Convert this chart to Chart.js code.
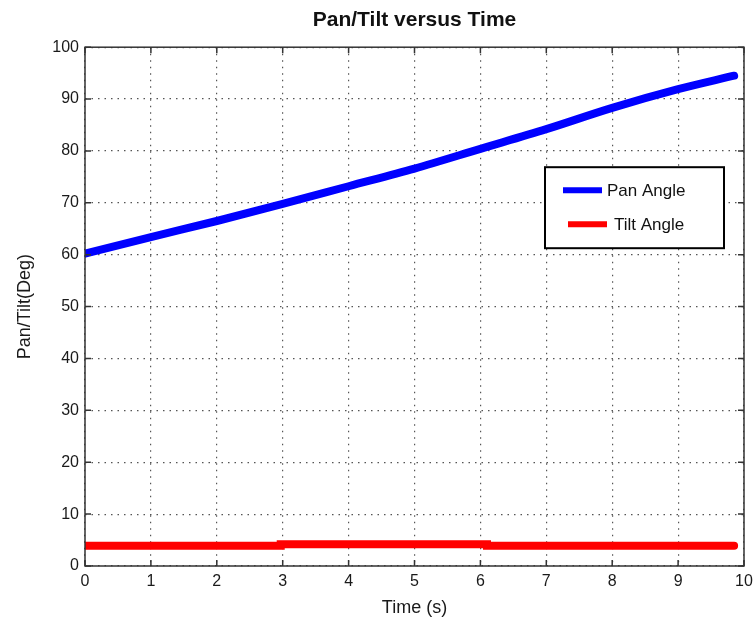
<!DOCTYPE html>
<html>
<head>
<meta charset="utf-8">
<script src="https://cdn.jsdelivr.net/npm/chart.js@4/dist/chart.umd.min.js"></script>
<style>
  html, body { margin: 0; padding: 0; background: #fff; }
  #wrap { width: 755px; height: 627px; }
</style>
</head>
<body>
<div id="wrap"><canvas id="line-chart" width="755" height="627"></canvas></div>
<script>
// values
const panTime = [0, 1, 2, 3, 4, 5, 6, 7, 8, 9, 9.85];
const panAngle = [60.2, 63.4, 66.5, 69.8, 73.2, 76.6, 80.4, 84.2, 88.3, 91.9, 94.5];
const tiltTime = [0, 2.97, 6.1, 9.85];
const tiltAngle = [3.9, 4.2, 3.9, 3.9];
const xTicks = [0, 1, 2, 3, 4, 5, 6, 7, 8, 9, 10];
const yTicks = [0, 10, 20, 30, 40, 50, 60, 70, 80, 90, 100];
const seriesNames = ["Pan Angle", "Tilt Angle"];

const toPoints = (xs, ys) => xs.map((x, i) => ({ x: x, y: ys[i] }));

// matlab style box + inward tick marks + legend drawn inside the axes
const matlabBox = {
  id: 'matlabBox',
  afterDraw(chart) {
    const ctx = chart.ctx, a = chart.chartArea;
    const xs = chart.scales.x, ys = chart.scales.y;
    ctx.save();
    ctx.strokeStyle = '#333';
    ctx.lineWidth = 1.5;
    ctx.strokeRect(a.left, a.top, a.right - a.left, a.bottom - a.top);
    ctx.beginPath();
    xTicks.forEach(t => {
      const px = xs.getPixelForValue(t);
      ctx.moveTo(px, a.bottom); ctx.lineTo(px, a.bottom - 6);
      ctx.moveTo(px, a.top); ctx.lineTo(px, a.top + 6);
    });
    yTicks.forEach(t => {
      const py = ys.getPixelForValue(t);
      ctx.moveTo(a.left, py); ctx.lineTo(a.left + 6, py);
      ctx.moveTo(a.right, py); ctx.lineTo(a.right - 6, py);
    });
    ctx.stroke();

    // legend
    const w = 179, h = 81;
    const bx = a.right - 20 - w, by = a.top + 120;
    ctx.fillStyle = '#fff';
    ctx.fillRect(bx, by, w, h);
    ctx.strokeStyle = '#000';
    ctx.lineWidth = 2;
    ctx.strokeRect(bx, by, w, h);
    ctx.font = '17px Arial';
    ctx.textBaseline = 'middle';
    chart.data.datasets.forEach((ds, i) => {
      const ly = by + 23 + i * 34;
      ctx.strokeStyle = ds.borderColor;
      ctx.lineWidth = 6;
      ctx.beginPath();
      ctx.moveTo(bx + 18 + i * 5, ly);
      ctx.lineTo(bx + 57 + i * 5, ly);
      ctx.stroke();
      ctx.fillStyle = '#111';
      ctx.fillText(ds.label, bx + 62 + i * 7, ly + 1);
    });
    ctx.restore();
  }
};

new Chart(document.getElementById("line-chart"), {
  type: 'line',
  data: {
    datasets: [{
        label: seriesNames[0],
        data: toPoints(panTime, panAngle),
        borderColor: "#0000ff",
        borderWidth: 8,
        borderCapStyle: 'round',
        cubicInterpolationMode: 'monotone',
        pointRadius: 0,
        fill: false
      }, {
        label: seriesNames[1],
        data: toPoints(tiltTime, tiltAngle),
        borderColor: "#ff0000",
        borderWidth: 8,
        borderCapStyle: 'round',
        stepped: 'before',
        pointRadius: 0,
        fill: false
      }
    ]
  },
  options: {
    responsive: false,
    animation: false,
    layout: { padding: { top: 2, left: 8, right: 11, bottom: 4 } },
    plugins: {
      legend: { display: false },
      tooltip: { enabled: false },
      title: {
        display: true,
        fullSize: false,
        text: 'Pan/Tilt versus Time',
        color: '#111',
        font: { family: 'Arial', size: 21, weight: 'bold' },
        padding: { top: 6, bottom: 14 }
      }
    },
    scales: {
      x: {
        type: 'linear',
        min: 0, max: 10,
        afterBuildTicks: s => { s.ticks = xTicks.map(v => ({ value: v })); },
        afterFit: s => { s.height = 57; s.paddingLeft = 0; s.paddingRight = 0; },
        ticks: { color: '#1a1a1a', font: { family: 'Arial', size: 16 }, padding: 6 },
        grid: { color: '#555', lineWidth: 1.2, drawTicks: false },
        border: { display: false, dash: [1.5, 5] },
        title: {
          display: true, text: 'Time (s)', color: '#1a1a1a',
          font: { family: 'Arial', size: 18 }, padding: { top: 0, bottom: 4 }
        }
      },
      y: {
        min: 0, max: 100,
        afterBuildTicks: s => { s.ticks = yTicks.map(v => ({ value: v })); },
        afterFit: s => { s.width = 77; s.paddingTop = 0; s.paddingBottom = 0; },
        ticks: { color: '#1a1a1a', font: { family: 'Arial', size: 16 }, padding: 6 },
        grid: { color: '#555', lineWidth: 1.2, drawTicks: false },
        border: { display: false, dash: [1.5, 5] },
        title: {
          display: true, text: 'Pan/Tilt(Deg)', color: '#1a1a1a',
          font: { family: 'Arial', size: 18 }, padding: { top: 6, bottom: 0 }
        }
      }
    }
  },
  plugins: [matlabBox]
});
</script>
</body>
</html>
